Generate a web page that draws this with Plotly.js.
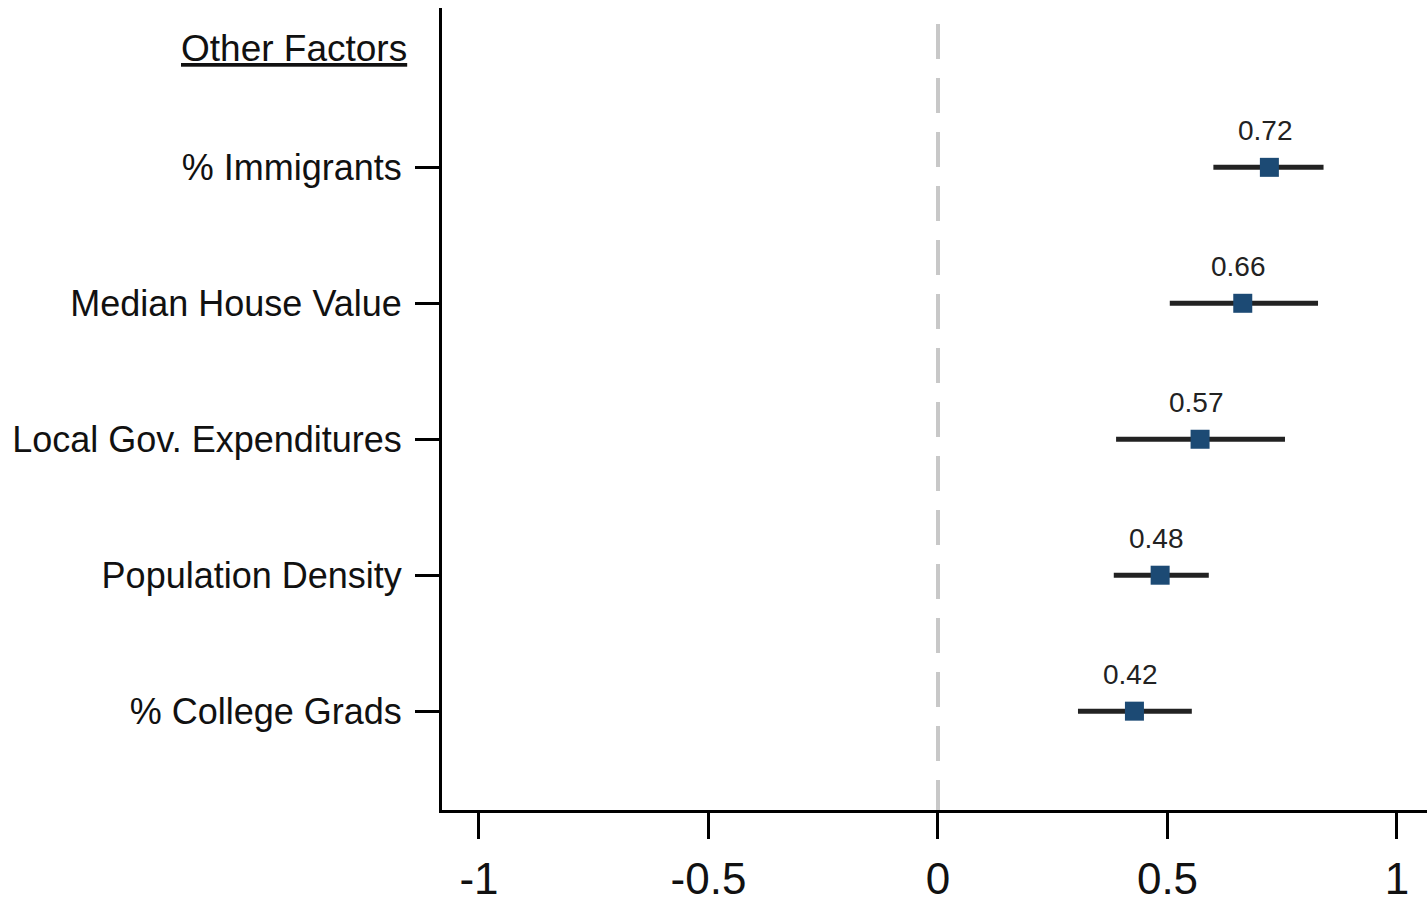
<!DOCTYPE html>
<html>
<head>
<meta charset="utf-8">
<script src="https://cdn.plot.ly/plotly-3.0.1.min.js"></script>
<style>html,body{margin:0;padding:0;background:#fff;}#chart{width:1427px;height:906px;}</style>
</head>
<body>
<div id="chart"></div>
<script>
const factors = ["% Immigrants", "Median House Value", "Local Gov. Expenditures", "Population Density", "% College Grads"];
const positions = [5, 4, 3, 2, 1];
const estimates = [0.722, 0.664, 0.571, 0.484, 0.428];
const lower = [0.60, 0.505, 0.388, 0.383, 0.305];
const upper = [0.84, 0.828, 0.756, 0.590, 0.553];
const valueLabels = ["0.72", "0.66", "0.57", "0.48", "0.42"];
const xTickVals = [-1, -0.5, 0, 0.5, 1];
const xTickText = ["-1", "-0.5", "0", "0.5", "1"];
const headerText = "Other Factors";
const headerPos = 5.875;

const FONT = "'Liberation Sans', Arial, sans-serif";
const L = 442, R = 1427;

const trace = {
  type: "scatter",
  mode: "markers",
  x: estimates,
  y: positions,
  marker: {symbol: "square", size: 19, color: "#1c4a74"},
  error_x: {
    type: "data",
    symmetric: false,
    array: upper.map((u, i) => u - estimates[i]),
    arrayminus: lower.map((l, i) => estimates[i] - l),
    color: "#222222",
    thickness: 5,
    width: 0
  },
  hoverinfo: "skip",
  showlegend: false
};

const annotations = valueLabels.map((t, i) => ({
  x: estimates[i], y: positions[i], xref: "x", yref: "y",
  text: t, showarrow: false, yshift: 37, xshift: -4,
  font: {family: FONT, size: 28, color: "#222222"}
}));
annotations.push({
  x: (409 - L) / (R - L), xref: "paper", y: headerPos, yref: "y",
  text: "<u>" + headerText + "</u>", showarrow: false,
  xanchor: "right", yanchor: "middle",
  font: {family: FONT, size: 37, color: "#111111"}
});

const layout = {
  width: 1427, height: 906,
  margin: {l: L, r: 0, t: 8, b: 96, pad: 0},
  paper_bgcolor: "#ffffff", plot_bgcolor: "#ffffff",
  font: {family: FONT, color: "#111111"},
  xaxis: {
    range: [-1.0806, 1.0654],
    tickvals: xTickVals, ticktext: xTickText,
    ticks: "outside", ticklen: 26, tickwidth: 3, tickcolor: "#000",
    showline: true, linewidth: 3, linecolor: "#000",
    showgrid: false, zeroline: false,
    tickfont: {family: FONT, size: 44, color: "#111"},
    ticklabelstandoff: 2
  },
  yaxis: {
    range: [0.273, 6.172],
    tickvals: positions, ticktext: factors,
    ticks: "outside", ticklen: 24, tickwidth: 3, tickcolor: "#000",
    showline: true, linewidth: 3, linecolor: "#000",
    showgrid: false, zeroline: false,
    tickfont: {family: FONT, size: 36, color: "#111"},
    ticklabelstandoff: 6
  },
  shapes: [{
    type: "line", xref: "x", yref: "paper",
    x0: 0, x1: 0, y0: 0.98, y1: 0.0,
    line: {color: "#c8c8c8", width: 4, dash: "35px,19px"},
    layer: "below"
  }],
  annotations: annotations
};

Plotly.newPlot("chart", [trace], layout, {displayModeBar: false, staticPlot: true});
</script>
</body>
</html>
